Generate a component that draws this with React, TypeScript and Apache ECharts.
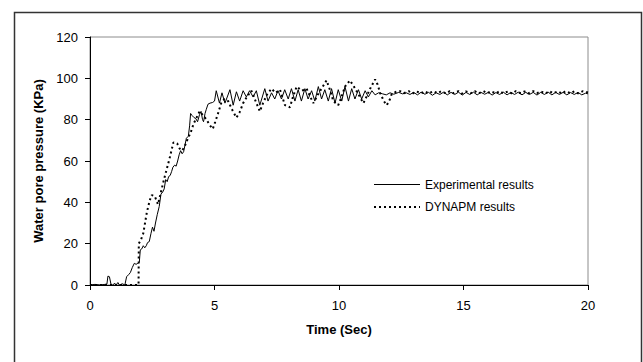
import React, { useEffect, useRef } from "react";
import * as echarts from "echarts";

const xTicks = [0, 5, 10, 15, 20];
const yTicks = [0, 20, 40, 60, 80, 100, 120];
const seriesNames = ["Experimental results", "DYNAPM results"];

const experimental: [number, number][] = [
  [0, 0], [0.2, 0.3], [0.4, 0], [0.6, 0.3], [0.68, 0.5], [0.72, 4.3], [0.78, 4], [0.84, 0.5], [0.9, 0],
  [1.0, 0.8], [1.05, 0], [1.12, 1.2], [1.18, 0], [1.3, 0.6], [1.4, 0], [1.47, 4], [1.55, 5], [1.62, 6],
  [1.7, 8.5], [1.78, 10.5], [1.85, 10], [1.92, 10.5], [1.98, 11], [2.02, 17], [2.08, 17.5], [2.14, 19],
  [2.2, 18], [2.26, 19], [2.31, 20.5], [2.38, 21], [2.45, 25], [2.51, 28], [2.57, 26], [2.63, 30],
  [2.7, 34], [2.78, 38], [2.85, 44], [2.92, 45], [2.98, 46.5], [3.04, 51], [3.1, 50], [3.16, 52.5],
  [3.22, 53], [3.28, 55], [3.33, 57], [3.4, 58], [3.46, 57.5], [3.52, 60], [3.58, 63], [3.64, 65],
  [3.7, 63.5], [3.76, 64.5], [3.82, 68], [3.87, 71], [3.95, 72], [4.0, 77], [4.04, 83], [4.1, 82],
  [4.18, 81], [4.25, 80.5], [4.32, 79], [4.4, 82.5], [4.46, 84], [4.52, 80], [4.56, 79], [4.62, 83],
  [4.67, 85], [4.74, 87.5], [4.82, 88], [4.92, 88.3], [5.0, 89], [5.07, 94], [5.2, 88], [5.3, 93],
  [5.42, 88], [5.62, 94.5], [5.75, 87], [5.88, 93.5], [6.01, 89], [6.15, 94], [6.28, 91], [6.41, 94],
  [6.55, 91], [6.68, 94], [6.82, 87], [7.02, 95], [7.15, 89], [7.29, 93], [7.42, 90], [7.55, 94],
  [7.69, 90], [7.82, 94.5], [7.96, 90], [8.09, 95], [8.23, 89], [8.36, 94.5], [8.49, 89], [8.63, 95],
  [8.76, 90], [8.9, 94], [9.03, 89], [9.17, 96], [9.3, 90], [9.43, 94.5], [9.57, 89], [9.7, 95],
  [9.84, 88], [9.97, 94.5], [10.11, 89], [10.24, 96], [10.38, 89], [10.51, 95], [10.64, 90],
  [10.78, 94.5], [10.91, 90], [11.05, 94], [11.18, 91], [11.32, 94], [11.45, 92], [11.59, 93],
  [11.75, 92.5], [11.9, 92], [12.05, 93], [12.2, 92.3], [12.4, 93.2], [12.55, 92.5], [12.7, 93],
  [12.85, 92.2], [13.0, 93.2], [13.15, 92], [13.3, 93.3], [13.45, 92.3], [13.6, 93.2], [13.75, 91.8],
  [13.9, 93], [14.05, 92.2], [14.2, 93.3], [14.35, 92], [14.5, 93.2], [14.65, 92.2], [14.8, 93.3],
  [14.95, 91.9], [15.1, 93.2], [15.25, 92.2], [15.4, 93.3], [15.55, 92], [15.7, 93.2], [15.85, 92.3],
  [16.0, 93.2], [16.15, 91.9], [16.3, 93.1], [16.45, 92.2], [16.6, 93.3], [16.75, 92], [16.9, 93.2],
  [17.05, 92.2], [17.2, 93.3], [17.35, 92], [17.5, 93.2], [17.65, 92.2], [17.8, 93.2], [17.95, 91.9],
  [18.1, 93.2], [18.25, 92.2], [18.4, 93.3], [18.55, 92], [18.7, 93.2], [18.85, 92.2], [19.0, 93.2],
  [19.15, 92], [19.3, 93.1], [19.45, 92.2], [19.6, 93.2], [19.75, 92], [19.9, 92.8], [20, 92.5],
];

const dynapm: [number, number][] = [
  [0, 0], [1.95, 0], [1.96, 20], [2.05, 22], [2.14, 25], [2.28, 35], [2.4, 41], [2.48, 43.5],
  [2.6, 43], [2.73, 39], [2.85, 45], [2.98, 51.5], [3.08, 56], [3.18, 60.5], [3.27, 65], [3.35, 69],
  [3.5, 68.5], [3.6, 66], [3.7, 65], [3.8, 67], [3.9, 70], [4.05, 74], [4.16, 78], [4.28, 81],
  [4.4, 84], [4.55, 82], [4.68, 80], [4.8, 77.5], [4.93, 75.5], [5.03, 79], [5.13, 82.6], [5.27, 88],
  [5.4, 90], [5.55, 89], [5.7, 85], [5.88, 81], [6.01, 83.6], [6.15, 88], [6.3, 91], [6.48, 94],
  [6.65, 89], [6.82, 84], [6.95, 88], [7.1, 92], [7.29, 95], [7.45, 93], [7.63, 94.5], [7.83, 87],
  [8.03, 86], [8.15, 91], [8.3, 96], [8.5, 94], [8.7, 95], [8.85, 91], [8.97, 88], [9.17, 92.5],
  [9.35, 96], [9.5, 99], [9.65, 94], [9.77, 89], [9.97, 87], [10.1, 91], [10.24, 96], [10.44, 99],
  [10.6, 96], [10.77, 92.5], [10.98, 88], [11.1, 91], [11.25, 95], [11.45, 99.5], [11.55, 97],
  [11.65, 93], [11.8, 89], [11.92, 87], [12.05, 90], [12.12, 92.5], [12.3, 93.5], [12.45, 93.8],
  [12.6, 92.8], [12.8, 93.8], [12.95, 92.6], [13.1, 93.7], [13.3, 92.8], [13.45, 93.8], [13.6, 92.7],
  [13.8, 93.8], [13.95, 92.8], [14.1, 93.7], [14.3, 92.7], [14.45, 93.8], [14.6, 92.8], [14.8, 93.8],
  [14.95, 92.6], [15.1, 93.7], [15.3, 92.8], [15.45, 93.8], [15.6, 92.7], [15.8, 93.8], [15.95, 92.8],
  [16.1, 93.7], [16.3, 92.7], [16.45, 93.8], [16.6, 92.8], [16.8, 93.7], [16.95, 92.6], [17.1, 93.8],
  [17.3, 92.8], [17.45, 93.7], [17.6, 92.7], [17.8, 93.8], [17.95, 92.8], [18.1, 93.7], [18.3, 92.7],
  [18.45, 93.8], [18.6, 92.8], [18.8, 93.7], [18.95, 92.6], [19.1, 93.8], [19.3, 92.8], [19.45, 93.7],
  [19.6, 92.7], [19.8, 93.8], [20, 93.2],
];

const FONT = "'Liberation Sans', Arial, sans-serif";
const DOT: number[] = [2, 3];

export default function App() {
  const ref = useRef<HTMLDivElement>(null);
  useEffect(() => {
    if (!ref.current) return;
    const chart = echarts.init(ref.current, null, { renderer: "svg" });
    chart.setOption({
      animation: false,
      backgroundColor: "#fff",
      textStyle: { fontFamily: FONT },
      grid: {
        left: 90,
        right: 55,
        top: 37,
        bottom: 77,
        show: true,
        borderColor: "#8c8c8c",
        borderWidth: 1,
      },
      graphic: [
        {
          type: "rect",
          shape: { x: 14.5, y: 12.5, width: 627, height: 380 },
          style: { fill: "none", stroke: "#333", lineWidth: 1.5 },
          silent: true,
        },
        {
          type: "line",
          shape: { x1: 374, y1: 184.5, x2: 420, y2: 184.5 },
          style: { stroke: "#000", lineWidth: 1 },
          silent: true,
        },
        {
          type: "line",
          shape: { x1: 374, y1: 207, x2: 420, y2: 207 },
          style: { stroke: "#000", lineWidth: 2, lineDash: DOT },
          silent: true,
        },
        {
          type: "text",
          x: 425,
          y: 184.5,
          style: {
            text: seriesNames[0],
            fill: "#000",
            font: `12px ${FONT}`,
            verticalAlign: "middle",
            align: "left",
          },
          silent: true,
        },
        {
          type: "text",
          x: 425,
          y: 207,
          style: {
            text: seriesNames[1],
            fill: "#000",
            font: `12px ${FONT}`,
            verticalAlign: "middle",
            align: "left",
          },
          silent: true,
        },
      ],
      xAxis: {
        type: "value",
        min: xTicks[0],
        max: xTicks[xTicks.length - 1],
        interval: 5,
        name: "Time (Sec)",
        nameLocation: "middle",
        nameGap: 38,
        nameTextStyle: { fontSize: 13, fontWeight: "bold", color: "#000", fontFamily: FONT },
        axisLine: { lineStyle: { color: "#000", width: 1 } },
        axisTick: { show: true, inside: false, length: 5, lineStyle: { color: "#000" } },
        axisLabel: { fontSize: 13, color: "#000", margin: 14, fontFamily: FONT },
        splitLine: { show: false },
      },
      yAxis: {
        type: "value",
        min: yTicks[0],
        max: yTicks[yTicks.length - 1],
        interval: 20,
        name: "Water pore pressure (KPa)",
        nameLocation: "middle",
        nameGap: 45,
        nameTextStyle: { fontSize: 13, fontWeight: "bold", color: "#000", fontFamily: FONT },
        axisLine: { show: true, lineStyle: { color: "#000", width: 1 } },
        axisTick: { show: true, inside: false, length: 5, lineStyle: { color: "#000" } },
        axisLabel: { fontSize: 13, color: "#000", margin: 12, fontFamily: FONT },
        splitLine: { show: false },
      },
      series: [
        {
          name: seriesNames[0],
          type: "line",
          data: experimental,
          symbol: "none",
          z: 3,
          lineStyle: { color: "#000", width: 1 },
          itemStyle: { color: "#000" },
        },
        {
          name: seriesNames[1],
          type: "line",
          data: dynapm,
          symbol: "none",
          z: 2,
          lineStyle: { color: "#000", width: 2, type: DOT },
          itemStyle: { color: "#000" },
        },
      ],
    });
    return () => chart.dispose();
  }, []);
  return (
    <div
      ref={ref}
      style={{ position: "fixed", left: 0, top: 0, width: 643, height: 362 }}
    />
  );
}
